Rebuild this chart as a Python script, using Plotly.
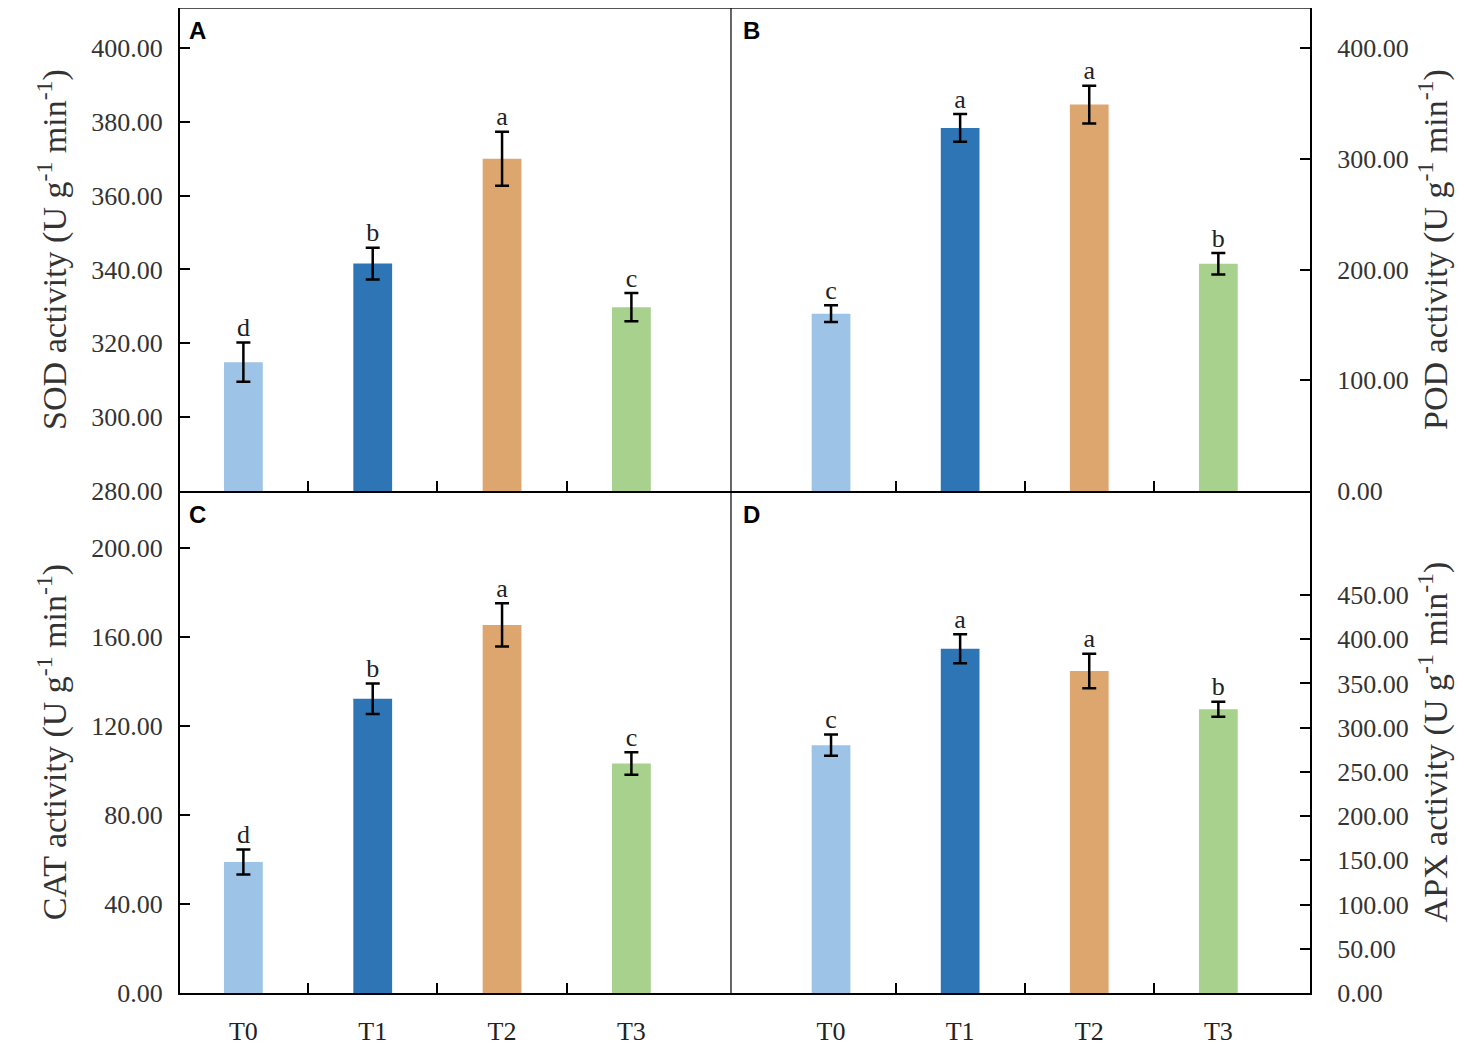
import plotly.graph_objects as go

treatments = ["T0", "T1", "T2", "T3"]
bar_colors = ["#9DC3E6", "#2E75B6", "#DEA66F", "#A9D18E"]

sod = [314.9, 341.6, 370.0, 329.8]
sod_err = [5.3, 4.3, 7.3, 3.8]
sod_letters = ["d", "b", "a", "c"]

pod = [160.2, 327.9, 349.0, 205.2]
pod_err = [7.5, 12.5, 17.0, 9.7]
pod_letters = ["c", "a", "a", "b"]

cat = [58.9, 132.3, 165.5, 103.2]
cat_err = [5.6, 6.9, 9.7, 5.1]
cat_letters = ["d", "b", "a", "c"]

apx = [280.2, 389.3, 364.1, 320.9]
apx_err = [12.0, 16.4, 19.5, 8.4]
apx_letters = ["c", "a", "a", "b"]

sod_ticks = [280, 300, 320, 340, 360, 380, 400]
pod_ticks = [0, 100, 200, 300, 400]
cat_ticks = [0, 40, 80, 120, 160, 200]
apx_ticks = [0, 50, 100, 150, 200, 250, 300, 350, 400, 450]

serif = "Liberation Serif"
xpos = [0, 1, 2, 3]

panels = [
    # data, err, letters, axis suffix, panel tag
    (sod, sod_err, sod_letters, "", "A"),
    (pod, pod_err, pod_letters, "2", "B"),
    (cat, cat_err, cat_letters, "3", "C"),
    (apx, apx_err, apx_letters, "4", "D"),
]

fig = go.Figure()
for vals, errs, letters, sfx, tag in panels:
    fig.add_trace(go.Bar(
        x=xpos, y=vals, width=0.30,
        marker=dict(color=bar_colors, line=dict(width=0)),
        error_y=dict(type="data", array=errs, visible=True,
                     color="black", thickness=2.5, width=7),
        xaxis="x" + sfx, yaxis="y" + sfx, showlegend=False))
    fig.add_trace(go.Scatter(
        x=xpos, y=[v + e for v, e in zip(vals, errs)],
        mode="text", text=letters, textposition="top center",
        textfont=dict(family=serif, size=26, color="#222"),
        xaxis="x" + sfx, yaxis="y" + sfx, showlegend=False))
    fig.add_annotation(text="<b>%s</b>" % tag, xref="x%s domain" % sfx,
                       yref="y%s domain" % sfx, x=0.012 if sfx in ("", "3") else 0.018,
                       y=0.985, xanchor="left", yanchor="top", showarrow=False,
                       font=dict(family="Liberation Sans", size=24, color="black"))

# page body has an 8px margin, so the figure is drawn 8px smaller
xdiv = 0.4876
ymid = 0.5096

def xax(domain, rng, anchor, labels):
    return dict(domain=domain, range=rng, anchor=anchor,
                tickmode="array", tickvals=xpos, ticktext=treatments,
                ticks="", showticklabels=labels, showgrid=False, zeroline=False,
                showline=True, linecolor="black", linewidth=2,
                tickfont=dict(family=serif, size=26, color="#222"),
                ticklabelstandoff=14,
                minor=dict(tickmode="array", tickvals=[0.5, 1.5, 2.5], ticks="inside",
                           ticklen=10, tickwidth=2, tickcolor="black", showgrid=False))

def yax(domain, rng, tickvals, anchor, side, title, standoff, tstand):
    return dict(domain=domain, range=rng, anchor=anchor, side=side,
                tickmode="array", tickvals=tickvals, tickformat=".2f",
                ticks="inside", ticklen=10, tickwidth=2, tickcolor="black",
                showgrid=False, zeroline=False,
                showline=True, linecolor="black", linewidth=2,
                tickfont=dict(family=serif, size=26, color="#333"),
                ticklabelstandoff=tstand,
                title=dict(text=title, standoff=standoff,
                           font=dict(family=serif, size=34, color="#333")))

unit = " (U g<sup>-1</sup> min<sup>-1</sup>)"

fig.update_layout(
    width=1468, height=1052,
    margin=dict(l=172, r=166, t=0, b=67),
    paper_bgcolor="white", plot_bgcolor="white",
    xaxis=xax([0, xdiv], [-0.49, 3.77], "y", False),
    xaxis2=xax([xdiv, 1], [-0.775, 3.71], "y2", False),
    xaxis3=xax([0, xdiv], [-0.49, 3.77], "y3", True),
    xaxis4=xax([xdiv, 1], [-0.775, 3.71], "y4", True),
    yaxis=yax([ymid, 1], [280, 410.8], sod_ticks, "x", "left", "SOD activity" + unit, 14, 10),
    yaxis2=yax([ymid, 1], [0, 436.2], pod_ticks, "x2", "right", "POD activity" + unit, 16, 20),
    yaxis3=yax([0, ymid], [0, 225.7], cat_ticks, "x3", "left", "CAT activity" + unit, 14, 10),
    yaxis4=yax([0, ymid], [0, 567.6], apx_ticks, "x4", "right", "APX activity" + unit, 16, 20),
    shapes=[
        dict(type="line", xref="paper", yref="paper", x0=0, x1=1, y0=1, y1=1,
             line=dict(color="#555", width=2)),
        dict(type="line", xref="paper", yref="paper", x0=xdiv, x1=xdiv, y0=0, y1=1,
             line=dict(color="black", width=1.2)),
    ],
)

fig.write_html("out.html")
